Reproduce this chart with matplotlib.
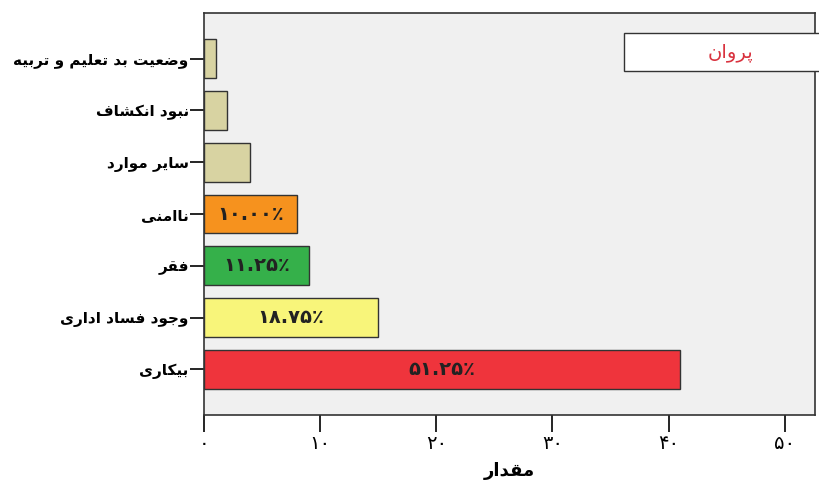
import matplotlib
matplotlib.use("Agg")
import matplotlib.pyplot as plt
from matplotlib.patches import Rectangle

# Data (counts, total = 80)
categories = ["وضعیت بد تعلیم و تربیه", "نبود انکشاف", "سایر موارد", "ناامنی",
              "فقر", "وجود فساد اداری", "بیکاری"]
values = [1, 2, 4, 8, 9, 15, 41]
bar_labels = ["", "", "", "۱۰.۰۰٪", "۱۱.۲۵٪", "۱۸.۷۵٪", "۵۱.۲۵٪"]
colors = ["#D8D3A2", "#D8D3A2", "#D8D3A2", "#F6921E", "#35B04A", "#F8F57A", "#EF343C"]
xticks = [0, 10, 20, 30, 40, 50]
xtick_labels = ["۰", "۱۰", "۲۰", "۳۰", "۴۰", "۵۰"]
xlabel = "مقدار"
legend_label = "پروان"

# matplotlib has no arabic shaping, so pick presentation forms by hand
# forms: isolated, final, initial, medial
FORMS = {
    "ا": (0xFE8D, 0xFE8E), "د": (0xFEA9, 0xFEAA), "ر": (0xFEAD, 0xFEAE), "و": (0xFEED, 0xFEEE),
    "ب": (0xFE8F, 0xFE90, 0xFE91, 0xFE92), "پ": (0xFB56, 0xFB57, 0xFB58, 0xFB59),
    "ت": (0xFE95, 0xFE96, 0xFE97, 0xFE98), "ج": (0xFE9D, 0xFE9E, 0xFE9F, 0xFEA0),
    "س": (0xFEB1, 0xFEB2, 0xFEB3, 0xFEB4), "ش": (0xFEB5, 0xFEB6, 0xFEB7, 0xFEB8),
    "ض": (0xFEBD, 0xFEBE, 0xFEBF, 0xFEC0), "ع": (0xFEC9, 0xFECA, 0xFECB, 0xFECC),
    "ف": (0xFED1, 0xFED2, 0xFED3, 0xFED4), "ق": (0xFED5, 0xFED6, 0xFED7, 0xFED8),
    "ک": (0xFB8E, 0xFB8F, 0xFB90, 0xFB91), "ل": (0xFEDD, 0xFEDE, 0xFEDF, 0xFEE0),
    "م": (0xFEE1, 0xFEE2, 0xFEE3, 0xFEE4), "ن": (0xFEE5, 0xFEE6, 0xFEE7, 0xFEE8),
    "ه": (0xFEE9, 0xFEEA, 0xFEEB, 0xFEEC), "ی": (0xFBFC, 0xFBFD, 0xFBFE, 0xFBFF),
}


def fa(s):
    out = []
    for i, ch in enumerate(s):
        f = FORMS.get(ch)
        if f is None:
            out.append(ch)
            continue
        prev = s[i - 1] if i > 0 else " "
        nxt = s[i + 1] if i < len(s) - 1 else " "
        join_prev = prev in FORMS and len(FORMS[prev]) == 4
        join_next = len(f) == 4 and nxt in FORMS
        if join_prev and join_next:
            out.append(chr(f[3]))
        elif join_prev:
            out.append(chr(f[1]))
        elif join_next:
            out.append(chr(f[2]))
        else:
            out.append(chr(f[0]))
    return "".join(out)[::-1]


plt.rcParams["font.family"] = ["DejaVu Sans"]

fig = plt.figure(figsize=(8.19, 4.9), dpi=100)
ax = fig.add_axes([204 / 819, 1 - 415 / 490, (815 - 204) / 819, (415 - 13) / 490])
ax.set_facecolor("#F0F0F0")

y = list(range(len(categories)))
ax.barh(y, values, height=0.75, color=colors, edgecolor="#333333", linewidth=1.0)
for yi, v, lab in zip(y, values, bar_labels):
    if lab:
        ax.text(v / 2, yi, lab, ha="center", va="center", fontsize=14,
                fontweight="bold", color="#222222")

ax.set_xlim(0, 52.6)
ax.set_ylim(6.88, -0.88)
ax.set_xticks(xticks)
ax.set_xticklabels(xtick_labels, fontsize=14)
ax.set_yticks(y)
ax.set_yticklabels([fa(c) for c in categories], fontsize=11, fontweight="bold")
ax.tick_params(axis="x", direction="out", length=12, width=1.2, pad=2)
ax.tick_params(axis="y", direction="out", length=10, width=1.2, pad=1)
ax.set_xlabel(fa(xlabel), fontsize=13, fontweight="bold", labelpad=6)
for sp in ax.spines.values():
    sp.set_color("#333333")
    sp.set_linewidth(1.2)

# legend-like box at top right, running off the figure edge
fig.patches.append(Rectangle((624 / 819, 1 - 71 / 490), 220 / 819, 38 / 490,
                             transform=fig.transFigure, facecolor="white",
                             edgecolor="#333333", linewidth=1.0))
fig.text(730 / 819, 1 - 52 / 490, fa(legend_label), ha="center", va="center",
         fontsize=14, color="#D9333F")

fig.savefig("out.png", dpi=100)
